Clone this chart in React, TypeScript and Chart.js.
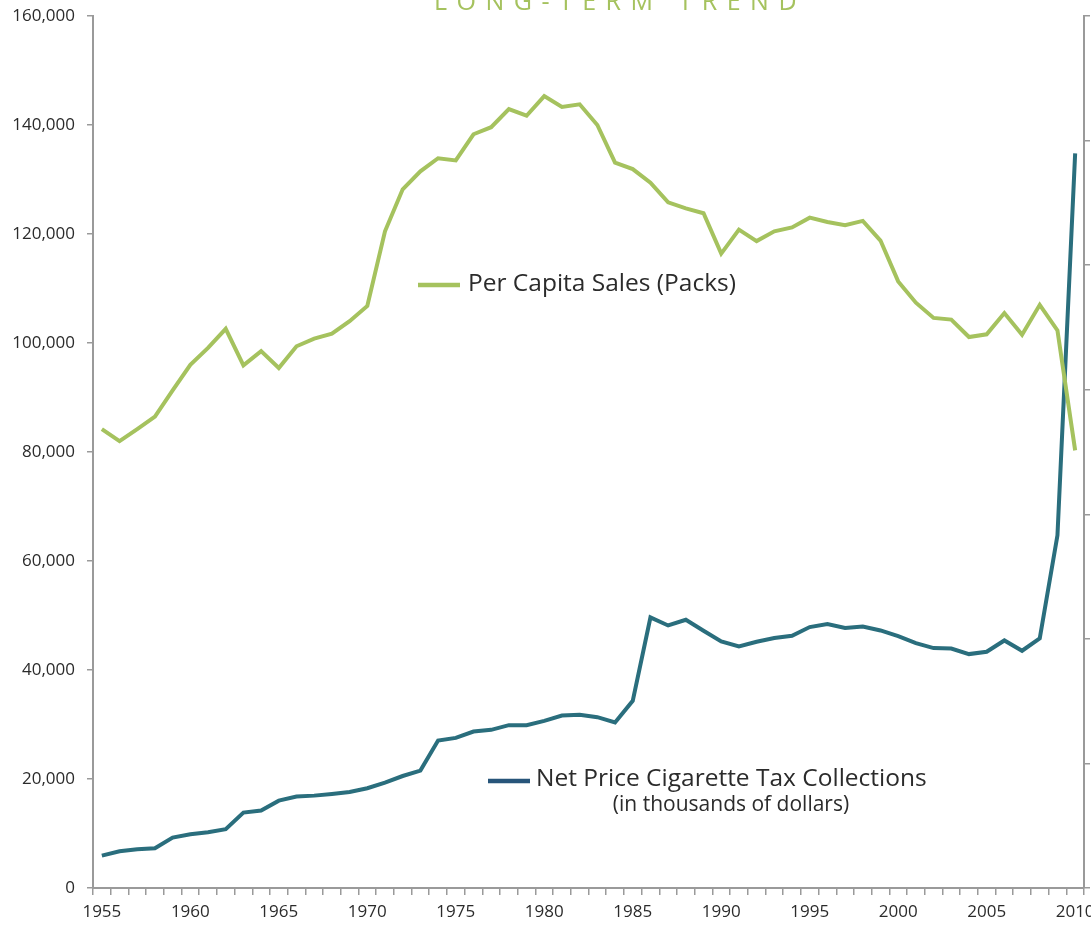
import React, { useEffect, useRef } from "react";
import { Chart, registerables } from "chart.js";

Chart.register(...registerables);

const years = [
  "1955","1956","1957","1958","1959","1960","1961","1962","1963","1964",
  "1965","1966","1967","1968","1969","1970","1971","1972","1973","1974",
  "1975","1976","1977","1978","1979","1980","1981","1982","1983","1984",
  "1985","1986","1987","1988","1989","1990","1991","1992","1993","1994",
  "1995","1996","1997","1998","1999","2000","2001","2002","2003","2004",
  "2005","2006","2007","2008","2009","2010",
];

const perCapitaSales = [
  84200, 82000, 84200, 86500, 91300, 96000, 99100, 102600, 95900, 98500,
  95400, 99400, 100800, 101700, 104000, 106800, 120500, 128200, 131500, 133900,
  133500, 138300, 139600, 142900, 141700, 145300, 143300, 143800, 140000, 133100,
  131900, 129400, 125800, 124700, 123800, 116400, 120800, 118700, 120500, 121200,
  123000, 122200, 121600, 122400, 118800, 111300, 107400, 104600, 104300, 101100,
  101600, 105500, 101500, 107000, 102300, 80300,
];

const taxCollections = [
  5930, 6740, 7110, 7290, 9240, 9860, 10230, 10780, 13830, 14200,
  16030, 16770, 16950, 17260, 17630, 18310, 19340, 20550, 21540, 27050,
  27550, 28700, 29020, 29880, 29880, 30670, 31640, 31770, 31350, 30360,
  34340, 49640, 48170, 49220, 47200, 45240, 44320, 45180, 45860, 46280,
  47880, 48430, 47700, 47990, 47260, 46200, 44940, 44020, 43950, 42920,
  43340, 45420, 43530, 45790, 64700, 134800,
];

const leftTicks = [0, 20000, 40000, 60000, 80000, 100000, 120000, 140000, 160000];
const rightTickCount = 7;

const titleText = "LONG-TERM TREND";
const salesLabel = "Per Capita Sales (Packs)";
const taxLabel = "Net Price Cigarette Tax Collections";
const taxSubLabel = "(in thousands of dollars)";

const GREEN = "#a5c25e";
const TEAL = "#2a6e7d";
const LEGEND_BLUE = "#27557a";
const AXIS = "#9a9a9a";
const TEXT = "#2b2b2b";
const FONT = '"Open Sans", "DejaVu Sans", sans-serif';

const overlayPlugin = {
  id: "overlay",
  afterDraw(chart: any) {
    const ctx = chart.ctx;
    ctx.save();
    // title (cut off at top)
    ctx.fillStyle = GREEN;
    ctx.font = `400 25px ${FONT}`;
    ctx.textAlign = "center";
    ctx.textBaseline = "alphabetic";
    try { (ctx as any).letterSpacing = "9.5px"; } catch (e) {}
    ctx.fillText(titleText, 620, 10);
    try { (ctx as any).letterSpacing = "0px"; } catch (e) {}

    // legend 1
    ctx.lineCap = "butt";
    ctx.strokeStyle = GREEN;
    ctx.lineWidth = 4.5;
    ctx.beginPath();
    ctx.moveTo(418, 285);
    ctx.lineTo(460, 285);
    ctx.stroke();
    ctx.fillStyle = TEXT;
    ctx.textAlign = "left";
    ctx.textBaseline = "middle";
    ctx.font = `400 24.5px ${FONT}`;
    ctx.fillText(salesLabel, 468, 284);

    // legend 2
    ctx.strokeStyle = LEGEND_BLUE;
    ctx.beginPath();
    ctx.moveTo(488, 781);
    ctx.lineTo(530, 781);
    ctx.stroke();
    ctx.fillText(taxLabel, 536, 779);
    ctx.font = `400 21px ${FONT}`;
    ctx.textAlign = "center";
    ctx.fillText(taxSubLabel, 731, 805);
    ctx.restore();
  },
};

export default function App() {
  const ref = useRef<HTMLCanvasElement | null>(null);

  useEffect(() => {
    document.body.style.margin = "0";
    const canvas = ref.current;
    if (!canvas) return;
    const chart = new Chart(canvas, {
      type: "line",
      data: {
        labels: years,
        datasets: [
          {
            label: salesLabel,
            data: perCapitaSales,
            borderColor: GREEN,
            borderWidth: 4,
            pointRadius: 0,
            tension: 0,
            yAxisID: "y",
          },
          {
            label: taxLabel,
            data: taxCollections,
            borderColor: TEAL,
            borderWidth: 4,
            pointRadius: 0,
            tension: 0,
            yAxisID: "y",
          },
        ],
      },
      options: {
        animation: false,
        responsive: false,
        maintainAspectRatio: false,
        layout: { padding: { top: 16, left: 0, right: 0, bottom: 0 } },
        plugins: {
          legend: { display: false },
          tooltip: { enabled: false },
          title: { display: false },
        },
        scales: {
          x: {
            type: "category",
            offset: true,
            grid: {
              offset: true,
              drawOnChartArea: false,
              drawTicks: true,
              tickLength: 7,
              color: AXIS,
              lineWidth: 1.5,
            },
            border: { display: true, color: AXIS, width: 2 },
            ticks: {
              autoSkip: false,
              maxRotation: 0,
              minRotation: 0,
              padding: 7,
              color: TEXT,
              font: { family: FONT, size: 17 },
              callback: function (this: any, _v: any, i: number) {
                const y = years[i];
                return Number(y) % 5 === 0 ? y : "";
              },
            },
            afterFit: (s: any) => {
              s.height = 38;
              s.paddingLeft = 0;
              s.paddingRight = 0;
            },
          },
          y: {
            position: "left",
            min: leftTicks[0],
            max: leftTicks[leftTicks.length - 1],
            afterBuildTicks: (s: any) => {
              s.ticks = leftTicks.map((v) => ({ value: v }));
            },
            grid: {
              drawOnChartArea: false,
              drawTicks: true,
              tickLength: 6,
              color: AXIS,
              lineWidth: 1.5,
            },
            border: { display: true, color: AXIS, width: 2 },
            ticks: {
              padding: 12,
              color: TEXT,
              font: { family: FONT, size: 17 },
              callback: (v: any) => Number(v).toLocaleString("en-US"),
            },
            afterFit: (s: any) => {
              s.width = 93;
              s.paddingTop = 0;
              s.paddingBottom = 0;
            },
          },
          y1: {
            position: "right",
            min: 0,
            max: rightTickCount,
            ticks: { display: false, stepSize: 1 },
            grid: {
              drawOnChartArea: false,
              drawTicks: true,
              tickLength: 6,
              color: AXIS,
              lineWidth: 1.5,
            },
            border: { display: true, color: AXIS, width: 2 },
            afterFit: (s: any) => {
              s.width = 7;
              s.paddingTop = 0;
              s.paddingBottom = 0;
            },
          },
        },
      },
      plugins: [overlayPlugin],
    } as any);
    return () => chart.destroy();
  }, []);

  return (
    <div style={{ width: 1091, height: 926, position: "relative", background: "#fff" }}>
      <canvas ref={ref} width={1091} height={926} style={{ display: "block", width: 1091, height: 926 }} />
    </div>
  );
}
